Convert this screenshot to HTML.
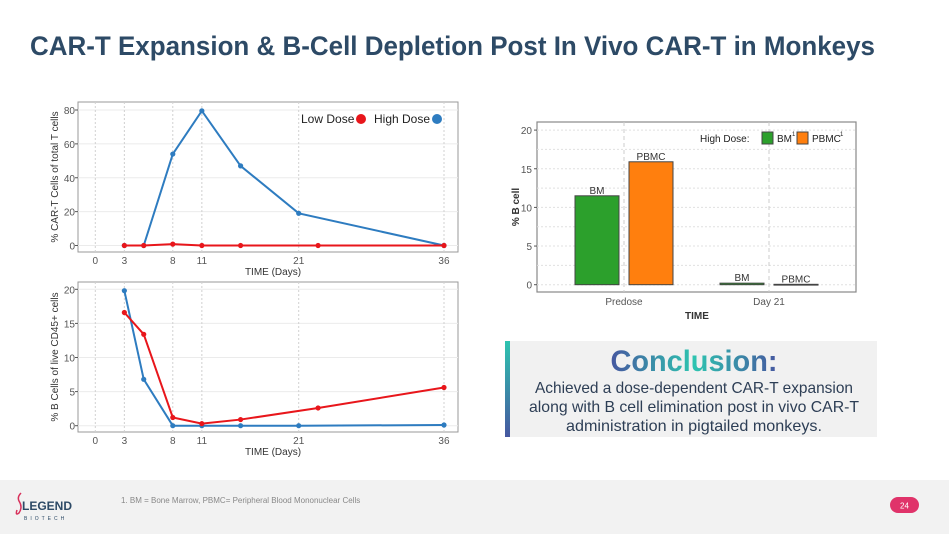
<!DOCTYPE html>
<html><head><meta charset="utf-8"><style>
body{margin:0;background:#fff;}
svg{display:block;font-family:"Liberation Sans",sans-serif;}
</style></head><body>
<svg id="s" width="949" height="534" viewBox="0 0 949 534">
<defs>
<linearGradient id="gbar" x1="0" y1="0" x2="0" y2="1"><stop offset="0" stop-color="#2ec4b0"/><stop offset="1" stop-color="#4657a0"/></linearGradient>
<linearGradient id="gtitle" x1="0" y1="0" x2="1" y2="0"><stop offset="0" stop-color="#4657a0"/><stop offset="0.5" stop-color="#2ec4b0"/><stop offset="1" stop-color="#4657a0"/></linearGradient>
</defs>
<text x="30" y="55" font-size="27" font-weight="bold" fill="#2d4a66" textLength="845" lengthAdjust="spacingAndGlyphs">CAR-T Expansion &amp; B-Cell Depletion Post In Vivo CAR-T in Monkeys</text>

<g id="c1"></g>
<g id="c2"></g>
<g id="c3"></g>

<g>
<rect x="505" y="341" width="372" height="96" fill="#f1f1f1"/>
<rect x="505" y="341" width="5" height="96" fill="url(#gbar)"/>
<text x="694" y="371" font-size="30" font-weight="bold" fill="url(#gtitle)" text-anchor="middle" textLength="167" lengthAdjust="spacingAndGlyphs">Conclusion:</text>
<g font-size="16" fill="#2d3e55" text-anchor="middle">
<text x="694" y="393" textLength="318" lengthAdjust="spacingAndGlyphs">Achieved a dose-dependent CAR-T expansion</text>
<text x="694" y="412" textLength="330" lengthAdjust="spacingAndGlyphs">along with B cell elimination post in vivo CAR-T</text>
<text x="694" y="431" textLength="256" lengthAdjust="spacingAndGlyphs">administration in pigtailed monkeys.</text>
</g>
</g>

<g>
<rect x="0" y="480" width="949" height="54" fill="#f2f2f2"/>
<g>
<path d="M21 493 q-4 4 -2 8 q4 6 0 12 q-4 3 -2 -3" fill="none" stroke="#d8315b" stroke-width="1.5"/>
<text x="22" y="510" font-size="12" font-weight="bold" fill="#2d4a66">LEGEND</text>
<text x="24" y="520" font-size="5" fill="#2d4a66" letter-spacing="3">BIOTECH</text>
</g>
<text x="121" y="503" font-size="8" fill="#888">1.    BM = Bone Marrow, PBMC= Peripheral Blood Mononuclear Cells</text>
<rect x="890" y="497" width="29" height="16" rx="8" fill="#e0336a"/>
<text x="904.5" y="508.5" font-size="8" fill="#fff" text-anchor="middle">24</text>
</g>
</svg>
<script>
const NS="http://www.w3.org/2000/svg";
function mk(p,tag,a,txt){const e=document.createElementNS(NS,tag);for(const k in a)e.setAttribute(k,a[k]);if(txt!==undefined)e.textContent=txt;p.appendChild(e);return e;}

// Chart 1 data
const c1Days=[3,5,8,11,15,21,36];
const c1High=[0,0,54,79.5,47,19,0];
const c1LowDays=[3,5,8,11,15,23,36];
const c1Low=[0,0,0.8,0,0,0,0];
const c1YTicks=[0,20,40,60,80];
const xTicks=[0,3,8,11,21,36];
// Chart 2 data
const c2Days=[3,5,8,11,15,21,36];
const c2High=[19.8,6.8,0,0,0,0,0.1];
const c2LowDays=[3,5,8,11,15,23,36];
const c2Low=[16.6,13.4,1.2,0.3,0.9,2.6,5.6];
const c2YTicks=[0,5,10,15,20];
// Chart 3 data
const c3Groups=["Predose","Day 21"];
const c3BM=[11.5,0.2];
const c3PBMC=[15.9,0.05];
const c3YTicks=[0,5,10,15,20];

function lineChart(g,o){
  const x=d=>95.3+d*9.686;
  const y=v=>o.y0-(v/o.ymax)*(o.y0-o.ytop);
  mk(g,"rect",{x:78,y:o.boxTop,width:380,height:150,fill:"#fff",stroke:"#999","stroke-width":1});
  o.yt.forEach(v=>{mk(g,"line",{x1:78,x2:458,y1:y(v),y2:y(v),stroke:"#ebebeb"});
    mk(g,"text",{x:75,y:y(v)+4,"font-size":10,fill:"#555","text-anchor":"end"},v);
    mk(g,"line",{x1:75,x2:78,y1:y(v),y2:y(v),stroke:"#555"});});
  xTicks.forEach(d=>{mk(g,"line",{x1:x(d),x2:x(d),y1:o.boxTop,y2:o.boxTop+150,stroke:"#d0d0d0","stroke-dasharray":"2,2"});
    mk(g,"text",{x:x(d),y:o.boxTop+162,"font-size":10,fill:"#555","text-anchor":"middle"},d);});
  mk(g,"text",{x:273,y:o.boxTop+173,"font-size":10,fill:"#333","text-anchor":"middle"},"TIME (Days)");
  const yl=mk(g,"text",{x:0,y:0,"font-size":10,fill:"#333","text-anchor":"middle",transform:`translate(58,${o.boxTop+75}) rotate(-90)`},o.ylab);
  
  
  const series=[[o.hd,o.hv,"#2e7cc0","high-dose-line"],[o.ld,o.lv,"#e8161b","low-dose-line"]];
  series.forEach(([ds,vs,c,n])=>{
    const pts=ds.map((d,i)=>x(d)+","+y(vs[i])).join(" ");
    const pl=mk(g,"polyline",{points:pts,fill:"none",stroke:c,"stroke-width":2});
    
    
    ds.forEach((d,i)=>{const p=mk(g,"circle",{cx:x(d),cy:y(vs[i]),r:2.6,fill:c});
      
      });
  });
}
lineChart(document.getElementById("c1"),{boxTop:102,y0:245.5,ytop:110,ymax:80,yt:c1YTicks,ylab:"% CAR-T Cells of total T cells",hd:c1Days,hv:c1High,ld:c1LowDays,lv:c1Low});
lineChart(document.getElementById("c2"),{boxTop:282,y0:425.7,ytop:289.3,ymax:20,yt:c2YTicks,ylab:"% B Cells of live CD45+ cells",hd:c2Days,hv:c2High,ld:c2LowDays,lv:c2Low});
// legend chart1
(function(){const g=document.getElementById("c1");
 const l=mk(g,"g",{});
 
 
 mk(l,"text",{x:301,y:123,"font-size":12,fill:"#222"},"Low Dose");
 mk(l,"circle",{cx:361,cy:119,r:5,fill:"#e8161b"});
 mk(l,"text",{x:374,y:123,"font-size":12,fill:"#222"},"High Dose");
 mk(l,"circle",{cx:437,cy:119,r:5,fill:"#2e7cc0"});})();

// bar chart
(function(){const g=document.getElementById("c3");
 const y=v=>284.7-v*7.73;
 const gx=[624,769];
 mk(g,"rect",{x:537,y:122,width:319,height:170,fill:"#fff",stroke:"#888","stroke-width":1.2});
 c3YTicks.forEach(v=>{mk(g,"line",{x1:537,x2:856,y1:y(v),y2:y(v),stroke:"#e0e0e0","stroke-dasharray":"2,2"});
   if(v<20) mk(g,"line",{x1:537,x2:856,y1:y(v+2.5),y2:y(v+2.5),stroke:"#e0e0e0","stroke-dasharray":"2,2"});
   mk(g,"text",{x:532,y:y(v)+4,"font-size":10,fill:"#555","text-anchor":"end"},v);
   mk(g,"line",{x1:534,x2:537,y1:y(v),y2:y(v),stroke:"#555"});});
 c3Groups.forEach((n,i)=>{mk(g,"line",{x1:gx[i],x2:gx[i],y1:122,y2:292,stroke:"#ccc","stroke-dasharray":"4,3"});
   mk(g,"text",{x:gx[i],y:305,"font-size":10,fill:"#555","text-anchor":"middle"},n);
   [[c3BM,"#2ca02c","BM",-49],[c3PBMC,"#ff7f0e","PBMC",5]].forEach(([arr,c,lab,off])=>{
     const v=arr[i];
     const b=mk(g,"rect",{x:gx[i]+off,y:y(v),width:44,height:Math.max(284.7-y(v),0.8),fill:c,stroke:"#444","stroke-width":1});
     
     
     mk(g,"text",{x:gx[i]+off+22,y:y(v)-2,"font-size":10,fill:"#333","text-anchor":"middle"},lab);
   });});
 mk(g,"text",{x:697,y:319,"font-size":10,"font-weight":"bold",fill:"#333","text-anchor":"middle"},"TIME");
 mk(g,"text",{x:0,y:0,"font-size":10,"font-weight":"bold",fill:"#333","text-anchor":"middle",transform:"translate(519,207) rotate(-90)"},"% B cell");
 const l=mk(g,"g",{});
 
 
 mk(l,"text",{x:700,y:142,"font-size":10,fill:"#222"},"High Dose:");
 mk(l,"rect",{x:762,y:132,width:11,height:12,fill:"#2ca02c",stroke:"#444"});
 mk(l,"text",{x:777,y:142,"font-size":10,fill:"#222"},"BM");
 mk(l,"text",{x:792,y:136,"font-size":6,fill:"#222"},"1");
 mk(l,"rect",{x:797,y:132,width:11,height:12,fill:"#ff7f0e",stroke:"#444"});
 mk(l,"text",{x:812,y:142,"font-size":10,fill:"#222"},"PBMC");
 mk(l,"text",{x:840,y:136,"font-size":6,fill:"#222"},"1");
})();
</script>
</body></html>
